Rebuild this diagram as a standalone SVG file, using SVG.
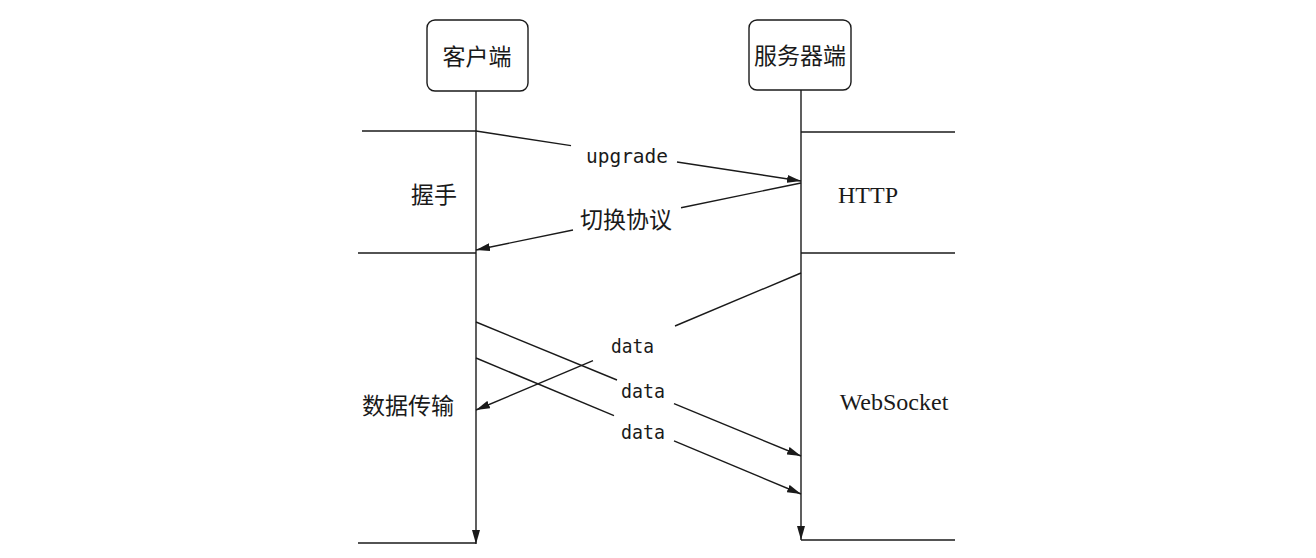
<svg xmlns="http://www.w3.org/2000/svg" width="1316" height="558" viewBox="0 0 1316 558">
<style>
.ln{stroke:#1a1a1a;stroke-width:1.4;fill:none}
.box{stroke:#1a1a1a;stroke-width:1.4;fill:#fff}
.cjk{font-family:"Noto Sans CJK SC","Noto Sans",sans-serif;font-size:23px;fill:#1a1a1a}
.mono{font-family:"DejaVu Sans Mono","Liberation Mono",monospace;font-size:20px;fill:#1a1a1a}
.serif{font-family:"Liberation Serif",serif;font-size:24px;fill:#1a1a1a}
</style>
<defs>
<marker id="arr" markerUnits="userSpaceOnUse" markerWidth="14" markerHeight="8" viewBox="0 0 14 8" refX="14" refY="4" orient="auto">
<path d="M0,0 L14,4 L0,8 z" fill="#1a1a1a"/>
</marker>
</defs>
<rect width="1316" height="558" fill="#fff"/>
<g id="client">
<rect class="box" x="427" y="20" width="101" height="71" rx="8"/>
<text class="cjk" x="477" y="65" text-anchor="middle">客户端</text>
</g>
<g id="server">
<rect class="box" x="749" y="20" width="102" height="70" rx="8"/>
<text class="cjk" x="800" y="64" text-anchor="middle">服务器端</text>
</g>
<g id="phases">
<line class="ln" x1="362" y1="131" x2="476" y2="131"/>
<line class="ln" x1="801" y1="132" x2="955" y2="132"/>
<line class="ln" x1="358" y1="253" x2="476" y2="253"/>
<line class="ln" x1="801" y1="253" x2="955" y2="253"/>
<line class="ln" x1="358" y1="543" x2="476" y2="543"/>
<line class="ln" x1="801" y1="540" x2="955" y2="540"/>
<text class="cjk" x="434" y="203" text-anchor="middle">握手</text>
<text class="serif" x="868" y="203" text-anchor="middle">HTTP</text>
<text class="cjk" x="408" y="414" text-anchor="middle">数据传输</text>
<text class="serif" x="894" y="410" text-anchor="middle">WebSocket</text>
</g>
<g id="connectors">
<line class="ln" x1="476" y1="91" x2="476" y2="544" marker-end="url(#arr)"/>
<line class="ln" x1="801" y1="90" x2="801" y2="540" marker-end="url(#arr)"/>
<line class="ln" x1="476" y1="131" x2="571" y2="145.6"/>
<line class="ln" x1="677" y1="162" x2="801" y2="181" marker-end="url(#arr)"/>
<line class="ln" x1="801" y1="183" x2="681" y2="207.7"/>
<line class="ln" x1="573" y1="230" x2="476" y2="250" marker-end="url(#arr)"/>
<line class="ln" x1="801" y1="273" x2="675" y2="326"/>
<line class="ln" x1="593" y1="360.7" x2="476" y2="410" marker-end="url(#arr)"/>
<line class="ln" x1="476" y1="322" x2="617" y2="380"/>
<line class="ln" x1="674" y1="403.6" x2="801" y2="456" marker-end="url(#arr)"/>
<line class="ln" x1="476" y1="358" x2="614" y2="415.7"/>
<line class="ln" x1="674" y1="440.8" x2="801" y2="494" marker-end="url(#arr)"/>
</g>
<g id="labels">
<text class="mono" x="586" y="163" textLength="82" lengthAdjust="spacingAndGlyphs">upgrade</text>
<text class="cjk" x="626" y="228" text-anchor="middle">切换协议</text>
<text class="mono" x="611" y="353" textLength="43" lengthAdjust="spacingAndGlyphs">data</text>
<text class="mono" x="621" y="398" textLength="44" lengthAdjust="spacingAndGlyphs">data</text>
<text class="mono" x="621" y="439" textLength="44" lengthAdjust="spacingAndGlyphs">data</text>
</g>
</svg>
